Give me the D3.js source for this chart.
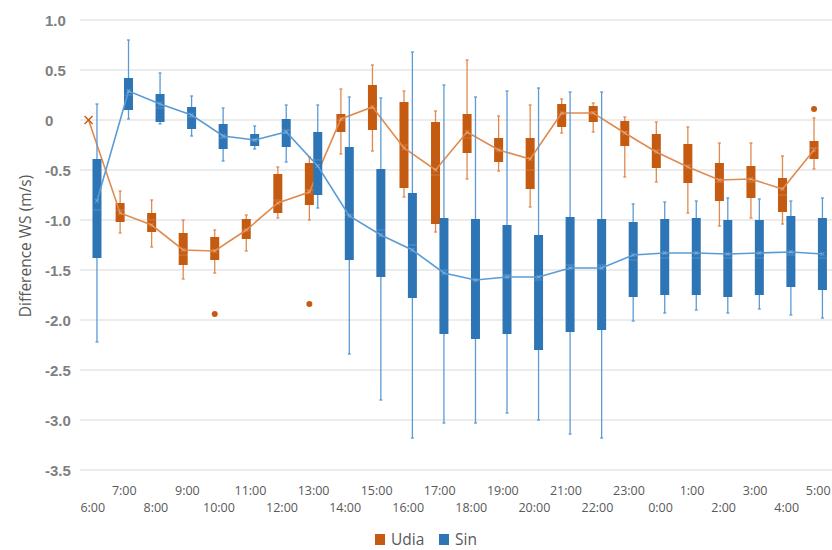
<!DOCTYPE html>
<html>
<head>
<meta charset="utf-8">
<script src="https://cdn.jsdelivr.net/npm/d3@7"></script>
<style>
  body { margin: 0; background: #fff; }
  text { font-family: "Open Sans", "Liberation Sans", sans-serif; }
</style>
</head>
<body>
<div id="chart"></div>
<script>
//////////////////////////////////////////////////////////////
////////////////////////// Data //////////////////////////////
//////////////////////////////////////////////////////////////

const hours = ["6:00","7:00","8:00","9:00","10:00","11:00","12:00","13:00","14:00","15:00","16:00","17:00",
  "18:00","19:00","20:00","21:00","22:00","23:00","0:00","1:00","2:00","3:00","4:00","5:00"]

// Udia (orange)
const udiaMin  = [0, -1.13, -1.27, -1.59, -1.53, -1.31, -0.98, -1.00, -0.34, -0.31, -0.77, -1.12, -0.59, -0.51, -0.87, -0.13, -0.12, -0.57, -0.62, -0.93, -1.06, -0.98, -1.04, -0.49]
const udiaQ1   = [0, -1.02, -1.12, -1.45, -1.40, -1.19, -0.93, -0.85, -0.12, -0.10, -0.68, -1.04, -0.33, -0.42, -0.69, -0.07, -0.02, -0.26, -0.48, -0.63, -0.81, -0.78, -0.92, -0.39]
const udiaMed  = [0, -0.90, -1.00, -1.35, -1.30, -1.10, -0.80, -0.70, 0.00, 0.12, -0.25, -0.55, -0.18, -0.30, -0.50, 0.06, 0.08, -0.12, -0.30, -0.45, -0.62, -0.62, -0.75, -0.28]
const udiaQ3   = [0, -0.83, -0.93, -1.13, -1.17, -0.99, -0.54, -0.43, 0.06, 0.35, 0.18, -0.02, 0.06, -0.18, -0.18, 0.16, 0.14, -0.01, -0.14, -0.24, -0.43, -0.46, -0.58, -0.21]
const udiaMax  = [0, -0.71, -0.80, -1.00, -1.10, -0.95, -0.47, -0.37, 0.31, 0.55, 0.29, 0.09, 0.60, 0.04, 0.15, 0.21, 0.17, 0.03, -0.02, -0.07, -0.23, -0.23, -0.36, 0.02]
const udiaMean = [0, -0.93, -1.05, -1.30, -1.31, -1.10, -0.83, -0.72, 0.01, 0.13, -0.28, -0.50, -0.12, -0.30, -0.39, 0.07, 0.07, -0.13, -0.32, -0.47, -0.60, -0.59, -0.69, -0.30]
const udiaOutliers = [["10:00", -1.94], ["13:00", -1.84], ["5:00", 0.11]]

// Sin (blue)
const sinMin  = [-2.22, 0.01, -0.04, -0.16, -0.41, -0.29, -0.42, -0.88, -2.34, -2.80, -3.18, -3.03, -3.03, -2.93, -3.00, -3.14, -3.18, -2.01, -1.93, -1.90, -1.93, -1.89, -1.95, -1.98]
const sinQ1   = [-1.38, 0.10, -0.02, -0.09, -0.29, -0.26, -0.27, -0.75, -1.40, -1.57, -1.78, -2.14, -2.19, -2.14, -2.30, -2.12, -2.10, -1.77, -1.75, -1.75, -1.77, -1.75, -1.67, -1.70]
const sinMed  = [-0.90, 0.25, 0.12, 0.03, -0.18, -0.20, -0.10, -0.40, -0.95, -1.10, -1.25, -1.50, -1.60, -1.55, -1.60, -1.45, -1.45, -1.40, -1.38, -1.38, -1.38, -1.38, -1.35, -1.38]
const sinQ3   = [-0.39, 0.42, 0.26, 0.13, -0.04, -0.14, 0.01, -0.12, -0.27, -0.49, -0.73, -0.98, -0.99, -1.05, -1.15, -0.97, -0.99, -1.02, -0.99, -0.98, -1.00, -1.00, -0.96, -0.98]
const sinMax  = [0.16, 0.80, 0.47, 0.24, 0.12, -0.06, 0.15, 0.15, 0.23, 0.22, 0.68, 0.35, 0.23, 0.29, 0.32, 0.28, 0.28, -0.84, -0.82, -0.81, -0.78, -0.79, -0.81, -0.78]
const sinMean = [-0.81, 0.29, 0.16, 0.05, -0.16, -0.20, -0.12, -0.46, -0.96, -1.15, -1.30, -1.53, -1.60, -1.57, -1.57, -1.48, -1.48, -1.35, -1.33, -1.33, -1.34, -1.33, -1.32, -1.34]

const yTicks = [1.0, 0.5, 0, -0.5, -1.0, -1.5, -2.0, -2.5, -3.0, -3.5]

//////////////////////////////////////////////////////////////
//////////////////////// Create SVG //////////////////////////
//////////////////////////////////////////////////////////////

const width = 832
const height = 550

const svg = d3.select("#chart").append("svg")
    .attr("width", width)
    .attr("height", height)

const x = d3.scaleBand()
    .domain(hours)
    .range([77, 834])

const y = d3.scaleLinear()
    .domain([-3.5, 1.0])
    .range([470, 20])

const boxW = 9
const offset = 4.2

const series = [
  { name: "Udia", color: "#c55a11", light: "#e08a4e", dx: -offset,
    min: udiaMin, q1: udiaQ1, med: udiaMed, q3: udiaQ3, max: udiaMax, mean: udiaMean },
  { name: "Sin", color: "#2e75b6", light: "#5b9bd5", dx: offset,
    min: sinMin, q1: sinQ1, med: sinMed, q3: sinQ3, max: sinMax, mean: sinMean }
]

//////////////////////////////////////////////////////////////
///////////////////////// Gridlines //////////////////////////
//////////////////////////////////////////////////////////////

svg.append("g").attr("class", "grid")
  .selectAll("line")
  .data(yTicks)
  .enter().append("line")
    .attr("x1", 80)
    .attr("x2", width)
    .attr("y1", d => y(d))
    .attr("y2", d => y(d))
    .style("stroke", "#d9d9d9")
    .style("stroke-width", 1)

//tick labels use a plain hyphen like the original
svg.append("g").attr("class", "y-labels")
  .selectAll("text")
  .data(yTicks)
  .enter().append("text")
    .attr("x", 45)
    .attr("y", d => y(d) + 5.5)
    .style("font-family", "'Liberation Sans', Arial, sans-serif")
    .style("font-size", "15px")
    .style("font-weight", "bold")
    .style("fill", "#7f7f7f")
    .text(d => d === 0 ? "0" : d.toFixed(1))

svg.append("text")
    .attr("transform", "translate(31,246) rotate(-90)")
    .attr("text-anchor", "middle")
    .style("font-size", "15.5px")
    .style("fill", "#595959")
    .text("Difference WS (m/s)")

svg.append("g").attr("class", "x-labels")
  .selectAll("text")
  .data(hours)
  .enter().append("text")
    .attr("x", d => x(d) + x.bandwidth() / 2)
    .attr("y", (d, i) => i % 2 === 0 ? 512 : 495)
    .attr("text-anchor", "middle")
    .style("font-size", "12.5px")
    .style("fill", "#595959")
    .text(d => d)

//////////////////////////////////////////////////////////////
///////////////////////// Box plots //////////////////////////
//////////////////////////////////////////////////////////////

const cx = (h, s) => x(h) + x.bandwidth() / 2 + s.dx

series.forEach(s => {
  const g = svg.append("g").attr("class", "series-" + s.name)
  const rows = hours.map((h, i) => ({ h: h, min: s.min[i], q1: s.q1[i], med: s.med[i], q3: s.q3[i], max: s.max[i], mean: s.mean[i] }))
  const boxed = rows.filter(d => d.max !== d.min)

  //whiskers
  g.selectAll(".whisker")
    .data(boxed)
    .enter().append("line")
      .attr("class", "whisker")
      .attr("x1", d => cx(d.h, s)).attr("x2", d => cx(d.h, s))
      .attr("y1", d => y(d.max)).attr("y2", d => y(d.min))
      .style("stroke", s.light)
      .style("stroke-width", 1.3)

  const caps = []
  boxed.forEach(d => { caps.push({ h: d.h, v: d.max }); caps.push({ h: d.h, v: d.min }) })
  g.selectAll(".cap")
    .data(caps)
    .enter().append("line")
      .attr("class", "cap")
      .attr("x1", d => cx(d.h, s) - 1.5).attr("x2", d => cx(d.h, s) + 1.5)
      .attr("y1", d => y(d.v)).attr("y2", d => y(d.v))
      .style("stroke", s.light)
      .style("stroke-width", 1.3)

  //boxes
  g.selectAll(".box")
    .data(boxed)
    .enter().append("rect")
      .attr("class", "box")
      .attr("x", d => cx(d.h, s) - boxW / 2)
      .attr("width", boxW)
      .attr("y", d => y(d.q3))
      .attr("height", d => y(d.q1) - y(d.q3))
      .style("fill", s.color)

  g.selectAll(".median")
    .data(boxed)
    .enter().append("line")
      .attr("class", "median")
      .attr("x1", d => cx(d.h, s) - boxW / 2).attr("x2", d => cx(d.h, s) + boxW / 2)
      .attr("y1", d => y(d.med)).attr("y2", d => y(d.med))
      .style("stroke", "#fff")
      .style("stroke-opacity", 0.2)
      .style("stroke-width", 1)

  //mean line
  const line = d3.line()
    .x(d => cx(d.h, s))
    .y(d => y(d.mean))
  g.append("path")
    .datum(rows)
    .attr("d", line)
    .style("fill", "none")
    .style("stroke", s.light)
    .style("stroke-width", 1.6)

  //mean markers (x)
  g.selectAll(".mean-marker")
    .data(rows)
    .enter().append("path")
      .attr("class", "mean-marker")
      .attr("transform", d => "translate(" + cx(d.h, s) + "," + y(d.mean) + ")")
      .attr("d", d => d.max === d.min ? "M-4,-4L4,4M-4,4L4,-4" : "M-2,-2L2,2M-2,2L2,-2")
      .style("stroke", d => d.max === d.min ? s.color : "#fff")
      .style("stroke-opacity", d => d.max === d.min ? 1 : 0.2)
      .style("stroke-width", 1.4)
})

//outliers
svg.append("g").attr("class", "outliers")
  .selectAll("circle")
  .data(udiaOutliers)
  .enter().append("circle")
    .attr("cx", d => cx(d[0], series[0]))
    .attr("cy", d => y(d[1]))
    .attr("r", 3)
    .style("fill", "#c55a11")

//////////////////////////////////////////////////////////////
/////////////////////////// Legend ///////////////////////////
//////////////////////////////////////////////////////////////

const legend = svg.append("g").attr("class", "legend")
const legendX = [375, 439]
series.forEach((s, i) => {
  legend.append("rect")
    .attr("x", legendX[i])
    .attr("y", 534)
    .attr("width", 10)
    .attr("height", 11)
    .style("fill", s.color)
  legend.append("text")
    .attr("x", legendX[i] + 16)
    .attr("y", 545)
    .style("font-size", "15.5px")
    .style("fill", "#595959")
    .text(s.name)
})
</script>
</body>
</html>
